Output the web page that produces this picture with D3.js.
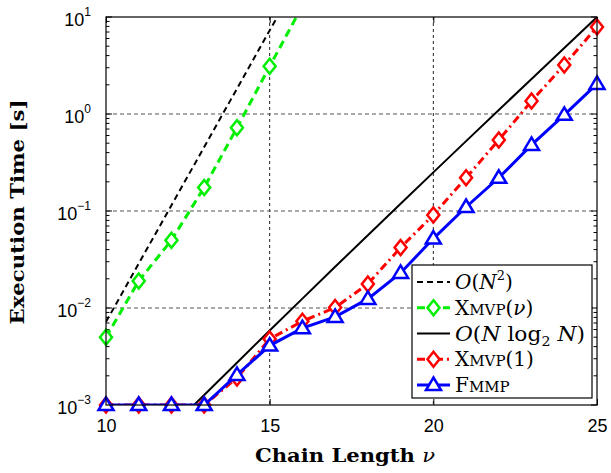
<!DOCTYPE html>
<html>
<head>
<meta charset="utf-8">
<script src="https://cdn.jsdelivr.net/npm/d3@7"></script>
<style>
body { margin: 0; background: #fff; }
</style>
</head>
<body>
<svg id="chart"></svg>
<script>
// data
const chainLength = [10, 11, 12, 13, 14, 15, 16, 17, 18, 19, 20, 21, 22, 23, 24, 25];
const xmvp1Time = [0.001, 0.001, 0.001, 0.001, 0.0019, 0.0048, 0.0073, 0.0101, 0.0177, 0.042, 0.091, 0.22, 0.54, 1.36, 3.2, 7.9];
const fmmpTime = [0.001, 0.001, 0.001, 0.001, 0.00204, 0.0041, 0.0062, 0.0081, 0.0124, 0.023, 0.052, 0.11, 0.22, 0.48, 0.98, 2.04];

const xmvpNuLength = [10, 11, 12, 13, 14, 15, 16];
const xmvpNuTime = [0.005, 0.019, 0.05, 0.175, 0.72, 3.1, 13];

const orderN2Length = [10, 16];
const orderN2Time = [0.0072, 29];

const orderNlogNLength = [12, 13, 14, 15, 16, 17, 18, 19, 20, 21, 22, 23, 24, 25];
const orderNlogNTime = [0.00059, 0.00127, 0.00273, 0.00586, 0.0125, 0.0266, 0.0562, 0.119, 0.25, 0.525, 1.10, 2.30, 4.80, 10];

const xTicks = [10, 15, 20, 25];
const yExponents = [-3, -2, -1, 0, 1];

const width = 611, height = 473;
const plot = {left: 106, right: 597, top: 17, bottom: 405};
const serif = '"DejaVu Serif", "Liberation Serif", serif';

const svg = d3.select('#chart')
    .attr('width', width)
    .attr('height', height)
    .style('font-family', '"Liberation Sans", Arial, sans-serif');

const x = d3.scaleLinear().domain([10, 25]).range([plot.left, plot.right]);
const y = d3.scaleLog().domain([1e-3, 10]).range([plot.bottom, plot.top]);

svg.append('defs').append('clipPath')
        .attr('id', 'clip')
    .append('rect')
        .attr('x', plot.left)
        .attr('y', plot.top)
        .attr('width', plot.right - plot.left)
        .attr('height', plot.bottom - plot.top);

// grid lines
const grid = svg.append('g').attr('class', 'grid');
grid.selectAll('line.gx')
    .data(xTicks.slice(1, -1))
    .enter().append('line')
        .attr('x1', d => x(d)).attr('x2', d => x(d))
        .attr('y1', plot.top).attr('y2', plot.bottom)
        .attr('stroke', '#222').attr('stroke-width', 1)
        .attr('stroke-dasharray', '3,3');
grid.selectAll('line.gy')
    .data(yExponents.slice(1, -1))
    .enter().append('line')
        .attr('y1', d => y(Math.pow(10, d))).attr('y2', d => y(Math.pow(10, d)))
        .attr('x1', plot.left).attr('x2', plot.right)
        .attr('stroke', '#555').attr('stroke-width', 1)
        .attr('stroke-dasharray', '4,3');

// axes: inward ticks on all four sides
const axisColor = '#000';
const majorY = yExponents.map(e => Math.pow(10, e));
const minorY = [];
yExponents.slice(0, -1).forEach(e => {
    for (let k = 2; k < 10; k++) minorY.push(k * Math.pow(10, e));
});

const axisBottom = d3.axisBottom(x).tickValues(xTicks).tickSizeInner(-6).tickSizeOuter(0).tickPadding(14);
svg.append('g')
    .attr('transform', 'translate(0,' + plot.bottom + ')')
    .call(axisBottom)
    .call(g => g.select('.domain').remove())
    .call(g => g.selectAll('text').attr('font-size', 18).attr('fill', '#000'));

const axisTop = d3.axisTop(x).tickValues(xTicks).tickSizeInner(-6).tickSizeOuter(0).tickFormat('');
svg.append('g')
    .attr('transform', 'translate(0,' + plot.top + ')')
    .call(axisTop)
    .call(g => g.select('.domain').remove());

[[plot.left, -1], [plot.right, 1]].forEach(([px, dir]) => {
    const g = svg.append('g');
    g.selectAll('line.major')
        .data(majorY)
        .enter().append('line')
            .attr('x1', px).attr('x2', px - dir * 6)
            .attr('y1', d => y(d)).attr('y2', d => y(d))
            .attr('stroke', axisColor);
    g.selectAll('line.minor')
        .data(minorY)
        .enter().append('line')
            .attr('x1', px).attr('x2', px - dir * 3.5)
            .attr('y1', d => y(d)).attr('y2', d => y(d))
            .attr('stroke', axisColor);
});

// y tick labels 10^e
const yLabels = svg.append('g').attr('font-size', 18).attr('fill', '#000');
yExponents.forEach(e => {
    const t = yLabels.append('text')
        .attr('x', 91)
        .attr('y', y(Math.pow(10, e)) + 9)
        .attr('text-anchor', 'end');
    t.append('tspan').text('10');
    t.append('tspan')
        .attr('font-size', 12)
        .attr('dy', -10)
        .text(e < 0 ? '\u2212' + (-e) : String(e));
});

// series
const lineGen = d3.line().x(d => x(d[0])).y(d => y(d[1]));
const zip = (a, b) => a.map((v, i) => [v, b[i]]);

const series = [
    {name: 'on2', data: zip(orderN2Length, orderN2Time), color: '#000', width: 2, dash: '6,4', marker: null},
    {name: 'xmvpnu', data: zip(xmvpNuLength, xmvpNuTime), color: '#00ee00', width: 3, dash: '8,5', marker: 'diamond'},
    {name: 'onlogn', data: zip(orderNlogNLength, orderNlogNTime), color: '#000', width: 2, dash: null, marker: null},
    {name: 'xmvp1', data: zip(chainLength, xmvp1Time), color: '#ff0000', width: 3, dash: '8,4,2,4', marker: 'diamond'},
    {name: 'fmmp', data: zip(chainLength, fmmpTime), color: '#0000ff', width: 3, dash: null, marker: 'triangle'}
];

const diamondPath = 'M0,-7.5L6,0L0,7.5L-6,0Z';
const trianglePath = 'M0,-7.5L7.5,5L-7.5,5Z';

series.forEach(s => {
    svg.append('path')
        .datum(s.data)
        .attr('clip-path', 'url(#clip)')
        .attr('d', lineGen)
        .attr('fill', 'none')
        .attr('stroke', s.color)
        .attr('stroke-width', s.width)
        .attr('stroke-dasharray', s.dash);
    if (s.marker) {
        svg.append('g').selectAll('path')
            .data(s.data.filter(d => d[1] <= 10))
            .enter().append('path')
                .attr('transform', d => 'translate(' + x(d[0]) + ',' + y(d[1]) + ')')
                .attr('d', s.marker === 'diamond' ? diamondPath : trianglePath)
                .attr('fill', '#fff')
                .attr('stroke', s.color)
                .attr('stroke-width', 2.5);
    }
});

// box
svg.append('rect')
    .attr('x', plot.left).attr('y', plot.top)
    .attr('width', plot.right - plot.left)
    .attr('height', plot.bottom - plot.top)
    .attr('fill', 'none').attr('stroke', '#000').attr('stroke-width', 1.2);

// axis titles
svg.append('text')
    .attr('x', 345).attr('y', 462)
    .attr('text-anchor', 'middle')
    .attr('font-family', serif)
    .attr('font-weight', 'bold')
    .attr('font-size', 18)
    .attr('textLength', 180)
    .attr('lengthAdjust', 'spacingAndGlyphs')
    .html('Chain Length <tspan font-style="italic" font-weight="normal">\u03bd</tspan>');

svg.append('text')
    .attr('transform', 'translate(24,' + 212 + ') rotate(-90)')
    .attr('text-anchor', 'middle')
    .attr('font-family', serif)
    .attr('font-weight', 'bold')
    .attr('font-size', 18)
    .attr('textLength', 225)
    .attr('lengthAdjust', 'spacingAndGlyphs')
    .text('Execution Time [s]');

// legend
const legend = svg.append('g').attr('transform', 'translate(412,265)');
legend.append('rect')
    .attr('width', 180).attr('height', 133)
    .attr('fill', '#fff').attr('stroke', '#000').attr('stroke-width', 1.2);

const legendRowY = d3.scaleLinear().domain([0, 4]).range([17, 120]);

series.forEach((s, i) => {
    const row = legend.append('g').attr('transform', 'translate(0,' + legendRowY(i) + ')');
    row.append('line')
        .attr('x1', 5).attr('x2', 38)
        .attr('stroke', s.color)
        .attr('stroke-width', s.width)
        .attr('stroke-dasharray', s.dash);
    if (s.marker) {
        row.append('path')
            .attr('transform', 'translate(21.5,0)')
            .attr('d', s.marker === 'diamond' ? diamondPath : trianglePath)
            .attr('fill', '#fff')
            .attr('stroke', s.color)
            .attr('stroke-width', 2.5);
    }
    const t = row.append('text')
        .attr('x', 43).attr('y', 7)
        .attr('font-family', serif)
        .attr('font-size', 20)
        .attr('fill', '#000');
    if (s.name === 'on2') {
        t.html('<tspan font-style="italic">O</tspan>(<tspan font-style="italic">N</tspan><tspan font-size="13" dy="-9">2</tspan><tspan dy="9">)</tspan>');
    } else if (s.name === 'onlogn') {
        t.attr('textLength', 130).attr('lengthAdjust', 'spacingAndGlyphs');
        t.html('<tspan font-style="italic">O</tspan>(<tspan font-style="italic">N</tspan> log<tspan font-size="13" dy="5">2</tspan><tspan dy="-5"> </tspan><tspan font-style="italic">N</tspan>)');
    } else if (s.name === 'xmvpnu') {
        t.html('X<tspan font-size="15">MVP</tspan>(<tspan font-style="italic">\u03bd</tspan>)');
    } else if (s.name === 'xmvp1') {
        t.html('X<tspan font-size="15">MVP</tspan>(1)');
    } else {
        t.html('F<tspan font-size="15">MMP</tspan>');
    }
});
</script>
</body>
</html>
